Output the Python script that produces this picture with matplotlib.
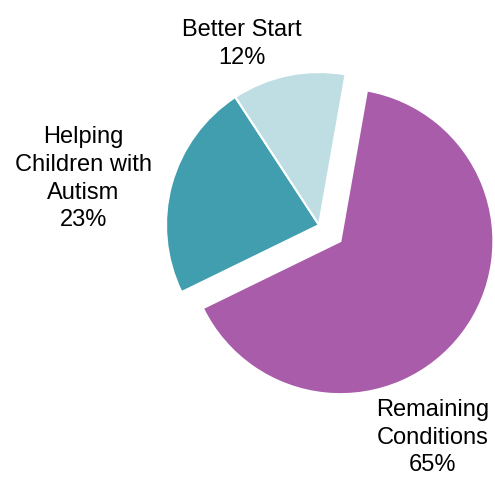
import matplotlib.pyplot as plt

plt.rcParams['font.family'] = ['Liberation Sans', 'DejaVu Sans']

# program share of spending
names = ['Remaining\nConditions', 'Helping\nChildren with\nAutism', 'Better Start']
shares = [65, 23, 12]
colors = ['#A85CA9', '#409EAE', '#BFDEE3']
explode = [0.175, 0, 0]

# top-centre of each label, in pie-radius units
label_xy = [(0.745, -1.137), (-1.542, 0.645), (-0.503, 1.345)]

fig = plt.figure(figsize=(4.95, 4.79), dpi=100)
ax = fig.add_axes([0, 0, 1, 1])

wedges, _ = ax.pie(shares, colors=colors, explode=explode, startangle=80,
                   counterclock=False, radius=1,
                   wedgeprops=dict(edgecolor='white', linewidth=1.5))

for name, share, (x, y) in zip(names, shares, label_xy):
    ax.text(x, y, f'{name}\n{share}%', ha='center', va='top',
            fontsize=17, linespacing=1.33, color='black')

ax.set_xlim(-2.085, 1.150)
ax.set_ylim(-1.660, 1.471)
ax.set_aspect('equal')
ax.axis('off')

fig.savefig('out.png', dpi=100)
